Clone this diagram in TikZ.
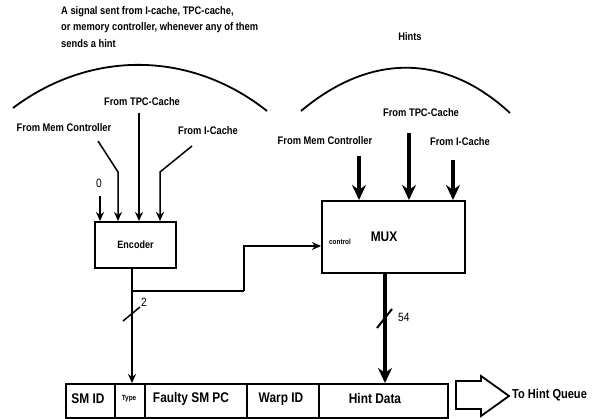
\documentclass[tikz,border=0pt]{standalone}
\usepackage{fontspec}
\setmainfont[FakeStretch=0.85]{Liberation Sans}
\usetikzlibrary{arrows.meta}
\begin{document}
\begin{tikzpicture}[x=1pt,y=-1pt,
  lbl/.style={font=\fontsize{11}{16.5}\selectfont\bfseries, inner sep=0pt},
  bigt/.style={font=\fontsize{14}{16}\selectfont\bfseries, inner sep=0pt},
  smallt/.style={font=\fontsize{7.5}{8}\selectfont\bfseries, inner sep=0pt},
  numt/.style={font=\fontsize{12}{14}\selectfont, inner sep=0pt},
  box/.style={draw, line width=2pt, inner sep=0pt},
  cell/.style={draw, line width=2pt, inner sep=0pt, minimum height=34pt, anchor=north west},
  cellt/.style={font=\fontsize{14}{16}\selectfont\bfseries, inner sep=0pt},
  thinarr/.style={line width=1.5pt, -{Stealth[length=9pt,width=8pt]}},
  thinln/.style={line width=1.5pt},
  thickarr/.style={line width=4pt, -{Stealth[length=15pt,width=14pt]}},
  arcln/.style={line width=1.8pt}
]
\useasboundingbox (0,0) rectangle (605,419);

% top-left text and arc
\node[lbl, align=left, anchor=north west] (sig) at (61,6) {A signal sent from I-cache, TPC-cache,\\or memory controller, whenever any of them\\sends a hint};
\draw[arcln] (13,108) .. controls (90,50) and (190,50) .. (267,111);

\node[lbl] (ltpc) at (142,102) {From TPC-Cache};
\node[lbl] (lmem) at (64,128) {From Mem Controller};
\node[lbl] (lic) at (208,131) {From I-Cache};

% encoder
\node[box, minimum width=81pt, minimum height=46pt, anchor=north west] (enc) at (94,221) {};
\node[font=\fontsize{10.6}{12}\selectfont\bfseries, inner sep=0pt] (enct) at (enc.center) {Encoder};
\node[numt] (zero) at (99,183) {0};

\coordinate (z0) at (100,196);
\coordinate (m0) at (98,141);
\coordinate (m1) at (118,172);
\coordinate (t0) at (139,113);
\coordinate (i0) at (192,146);
\coordinate (i1) at (160,172);
\draw[thinarr] (z0) -- (z0 |- enc.north);
\draw[thinarr] (m0) -- (m1) -- (m1 |- enc.north);
\draw[thinarr] (t0) -- (t0 |- enc.north);
\draw[thinarr] (i0) -- (i1) -- (i1 |- enc.north);

% right arc and labels
\node[lbl] (hints) at (410,37) {Hints};
\draw[arcln] (301,111) .. controls (370,53) and (445,53) .. (510,113);
\node[lbl] (rtpc) at (421,113) {From TPC-Cache};
\node[lbl] (rmem) at (325,141) {From Mem Controller};
\node[lbl] (ric) at (460,142) {From I-Cache};

% mux
\node[box, minimum width=143pt, minimum height=72pt, anchor=north west] (mux) at (321,200) {};
\node[bigt] (muxt) at (384,237) {MUX};
\node[smallt] (ctrl) at (340,242) {control};

\coordinate (rm0) at (359,156);
\coordinate (rt0) at (409,133);
\coordinate (ri0) at (453,160);
\draw[thickarr] (rm0) -- (rm0 |- mux.north);
\draw[thickarr] (rt0) -- (rt0 |- mux.north);
\draw[thickarr] (ri0) -- (ri0 |- mux.north);

% bottom fields
\node[cell, minimum width=49pt] (smid) at (65,383) {};
\node[cell, minimum width=30pt] (type) at (114,383) {};
\node[cell, minimum width=102pt] (fpc) at (144,383) {};
\node[cell, minimum width=72pt] (wid) at (246,383) {};
\node[cell, minimum width=129pt] (hd) at (318,383) {};
\node[cellt] (smidt) at (88,399) {SM ID};
\node[smallt] (typet) at (129,399) {Type};
\node[cellt] (fpct) at (191,399) {Faulty SM PC};
\node[cellt] (widt) at (281,399) {Warp ID};
\node[cellt] (hdt) at (375,398) {Hint Data};

% encoder output
\coordinate (eo) at (132,267);
\coordinate (j) at (132,291);
\coordinate (c1) at (244,291);
\coordinate (c2) at (244,246);
\draw[thinln] (eo) -- (j) -- (c1);
\draw[thinarr] (c1) -- (c2) -- (c2 -| mux.west);
\draw[thinarr] (j) -- (j |- type.north);
\draw[thinln] (123,321) -- (140,307);
\node[numt, anchor=west] (two) at (141,302) {2};

% mux output
\coordinate (mo) at (385,272);
\draw[thickarr] (mo) -- (mo |- hd.north);
\draw[line width=2pt] (377,328) -- (392,309);
\node[numt, anchor=west] (n54) at (398,317) {54};

% hollow arrow
\draw[line width=1.8pt] (456,381) -- (481,381) -- (481,376) -- (509,396) -- (481,416) -- (481,409) -- (456,409) -- cycle;
\node[font=\fontsize{13}{15}\selectfont\bfseries, inner sep=0pt, anchor=west] (thq) at (512,395) {To Hint Queue};
\end{tikzpicture}
\end{document}
